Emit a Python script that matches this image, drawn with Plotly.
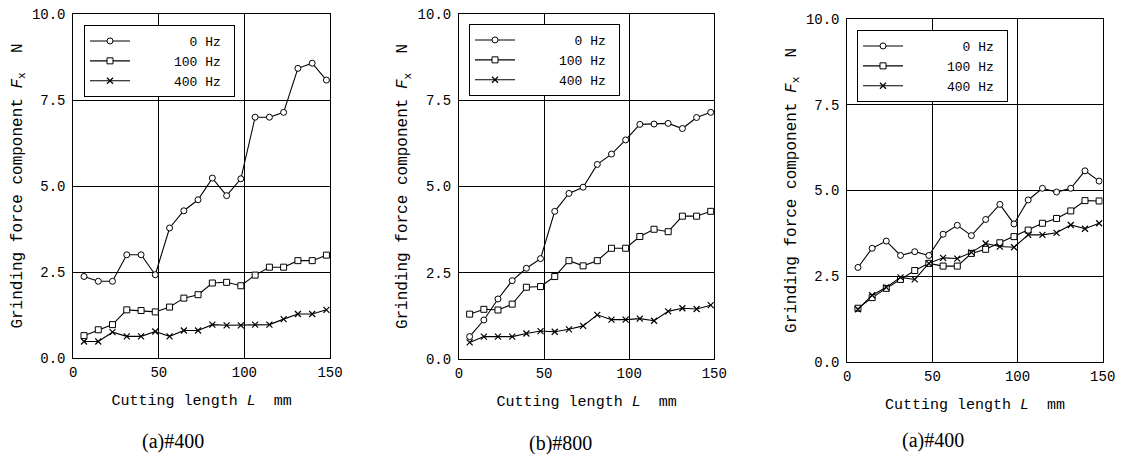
import plotly.graph_objects as go

W, H = 1122, 454

# Cutting length L (mm)
L = [6.25, 14.6, 22.9, 31.25, 39.6, 47.9, 56.25, 64.6, 72.9, 81.25,
     89.6, 97.9, 106.25, 114.6, 122.9, 131.25, 139.6, 147.9]

series_names = ["0 Hz", "100 Hz", "400 Hz"]
legend_labels = ["\u00a0\u00a0\u00a0\u00a0\u00a0\u00a0\u00a00 Hz\u00a0",
                 "\u00a0\u00a0\u00a0\u00a0\u00a0100 Hz\u00a0",
                 "\u00a0\u00a0\u00a0\u00a0\u00a0400 Hz\u00a0"]

# Panel (a) #400
a_0hz = [2.37, 2.23, 2.23, 3.0, 3.0, 2.42, 3.78, 4.28, 4.6, 5.23,
         4.72, 5.21, 7.0, 7.0, 7.14, 8.42, 8.57, 8.08]
a_100hz = [0.65, 0.82, 0.97, 1.40, 1.38, 1.34, 1.48, 1.74, 1.84, 2.18,
           2.20, 2.10, 2.41, 2.64, 2.64, 2.83, 2.83, 2.99]
a_400hz = [0.48, 0.48, 0.75, 0.63, 0.63, 0.77, 0.63, 0.80, 0.80, 0.97,
           0.95, 0.95, 0.97, 0.97, 1.13, 1.28, 1.28, 1.40]

# Panel (b) #800
b_0hz = [0.65, 1.13, 1.74, 2.27, 2.63, 2.91, 4.28, 4.80, 4.98, 5.64,
         5.94, 6.35, 6.80, 6.81, 6.83, 6.68, 7.0, 7.15]
b_100hz = [1.30, 1.44, 1.42, 1.59, 2.08, 2.10, 2.39, 2.85, 2.70, 2.85,
           3.21, 3.21, 3.55, 3.76, 3.69, 4.14, 4.14, 4.28]
b_400hz = [0.48, 0.65, 0.65, 0.65, 0.74, 0.81, 0.79, 0.86, 0.96, 1.28,
           1.14, 1.14, 1.17, 1.11, 1.38, 1.47, 1.45, 1.56]

# Panel (third) #400
c_0hz = [2.75, 3.31, 3.52, 3.10, 3.21, 3.10, 3.72, 3.98, 3.68, 4.15,
         4.59, 4.02, 4.72, 5.06, 4.95, 5.06, 5.57, 5.27]
c_100hz = [1.56, 1.87, 2.14, 2.40, 2.66, 2.87, 2.79, 2.79, 3.16, 3.28,
           3.47, 3.65, 3.84, 4.04, 4.18, 4.40, 4.70, 4.69]
c_400hz = [1.53, 1.94, 2.17, 2.46, 2.40, 2.87, 3.03, 3.01, 3.19, 3.45,
           3.36, 3.34, 3.70, 3.70, 3.76, 3.99, 3.88, 4.04]

panels = [
    {"data": [a_0hz, a_100hz, a_400hz], "caption": "(a)#400"},
    {"data": [b_0hz, b_100hz, b_400hz], "caption": "(b)#800"},
    {"data": [c_0hz, c_100hz, c_400hz], "caption": "(a)#400"},
]

x_ticks = [0, 50, 100, 150]
y_ticks = [0.0, 2.5, 5.0, 7.5, 10.0]

# pixel layout: (left, right, top, bottom)
boxes = [(73.3, 330.0, 14, 358), (459.0, 714.3, 14, 359), (847.3, 1102.7, 19, 361.7)]
legend_pos = [(85, 24), (470, 23), (858, 29)]
caption_pos = [(173, 441), (560, 443), (933, 440)]

MONO = "Liberation Mono"
SERIF = "Liberation Serif"

markers = [
    dict(symbol="circle", size=6, color="white", line=dict(color="black", width=1)),
    dict(symbol="square", size=6, color="white", line=dict(color="black", width=1)),
    dict(symbol="x-thin", size=6, color="black", line=dict(color="black", width=1.2)),
]

fig = go.Figure()
annotations = []
for i, p in enumerate(panels):
    k = "" if i == 0 else str(i + 1)
    lg = "legend" if i == 0 else f"legend{i + 1}"
    for j, ys in enumerate(p["data"]):
        fig.add_trace(go.Scatter(
            x=L, y=ys, mode="lines+markers", name=legend_labels[j],
            line=dict(color="black", width=1.1), marker=markers[j],
            xaxis=f"x{k}", yaxis=f"y{k}", legend=lg, showlegend=True,
        ))
    l, r, t, b = boxes[i]
    axis_common = dict(showline=True, linecolor="black", linewidth=1, mirror=True,
                       showgrid=True, gridcolor="black", gridwidth=1, zeroline=False,
                       automargin=False,
                       ticks="", tickfont=dict(family=MONO, size=14, color="black"))
    fig.update_layout(**{
        f"xaxis{k}": dict(domain=[l / W, r / W], range=[0, 150], tickvals=x_ticks,
                          anchor=f"y{k}", ticklabelstandoff=1,
                          title=dict(text="Cutting length <i>L</i>\u00a0\u00a0mm",
                                     font=dict(family=MONO, size=15, color="black"),
                                     standoff=14),
                          **axis_common),
        f"yaxis{k}": dict(domain=[1 - b / H, 1 - t / H], range=[0, 10], tickvals=y_ticks,
                          tickformat=".1f", anchor=f"x{k}", ticklabelstandoff=4,
                          title=dict(text="Grinding force component <i>F</i><sub>x</sub>\u00a0\u00a0N",
                                     font=dict(family=MONO, size=16, color="black"),
                                     standoff=5),
                          **axis_common),
        lg: dict(x=(legend_pos[i][0] - 1) / W, y=1 - (legend_pos[i][1] + 1) / H,
                 xanchor="left", yanchor="top", bordercolor="black", borderwidth=1,
                 bgcolor="white", font=dict(family=MONO, size=13, color="black"),
                 tracegroupgap=0, itemwidth=40),
    })
    annotations.append(dict(text=p["caption"], x=caption_pos[i][0] / W, y=1 - caption_pos[i][1] / H,
                            xref="paper", yref="paper", showarrow=False,
                            font=dict(family=SERIF, size=20, color="black"),
                            xanchor="center", yanchor="middle"))

fig.update_layout(width=W, height=H, margin=dict(l=0, r=0, t=0, b=0),
                  plot_bgcolor="white", paper_bgcolor="white",
                  annotations=annotations)
fig.write_html("out.html", config={"displayModeBar": False},
               post_script="document.body.style.margin='0';")
